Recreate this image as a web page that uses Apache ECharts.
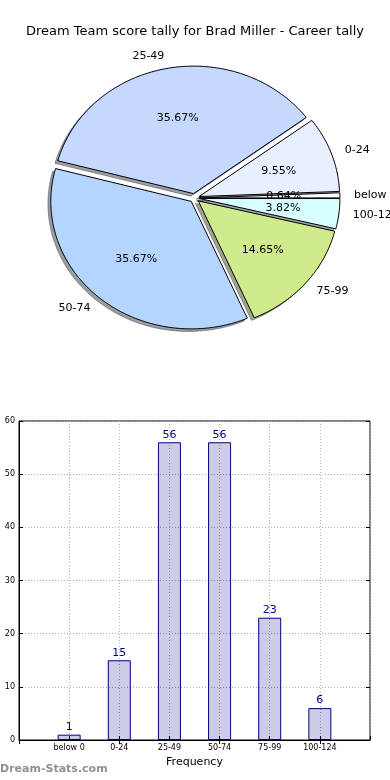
<!DOCTYPE html>
<html>
<head>
<meta charset="utf-8">
<script src="https://cdn.jsdelivr.net/npm/echarts@6/dist/echarts.min.js"></script>
<style>
html,body{margin:0;padding:0;background:#fff;}
#chart{width:390px;height:780px;}
</style>
</head>
<body>
<div id="chart"></div>
<script>
const titleText = 'Dream Team score tally for Brad Miller - Career tally';
const categories = ['below 0', '0-24', '25-49', '50-74', '75-99', '100-124'];
const counts = [1, 15, 56, 56, 23, 6];
const pieLabels = ['below', '0-24', '25-49', '50-74', '75-99', '100-124'];
const pieColors = ['#ffffff', '#e8f0ff', '#c5d8ff', '#b3d5ff', '#cfeb8b', '#d8ffff'];
const yMax = 60;
const yStep = 10;

const total = counts.reduce((a, b) => a + b, 0);
const starts = [];
(function () { let acc = 0; counts.forEach(v => { starts.push(acc); acc += v; }); })();
const EXPLODE = 0.035;
const SHADOW = -0.02;

function hexRgb(h) {
  return [parseInt(h.slice(1, 3), 16), parseInt(h.slice(3, 5), 16), parseInt(h.slice(5, 7), 16)];
}
function angles(i) {
  const t1 = starts[i] / total * Math.PI * 2;
  const t2 = (starts[i] + counts[i]) / total * Math.PI * 2;
  return [t1, t2, (t1 + t2) / 2];
}
function wedgePts(api, i, dx, dy) {
  const [t1, t2, tm] = angles(i);
  const ox = EXPLODE * Math.cos(tm) + dx, oy = EXPLODE * Math.sin(tm) + dy;
  const pts = [api.coord([ox, oy])];
  const n = Math.max(2, Math.ceil((t2 - t1) / (Math.PI / 180)));
  for (let k = 0; k <= n; k++) {
    const t = t1 + (t2 - t1) * k / n;
    pts.push(api.coord([ox + Math.cos(t), oy + Math.sin(t)]));
  }
  return pts;
}

const pieData = counts.map((v, i) => [i, v]);
const padCats = [''].concat(categories, ['']);
const padVals = ['-'].concat(counts, ['-']);

const chart = echarts.init(document.getElementById('chart'), null, { renderer: 'canvas' });
const gridLine = { show: true, lineStyle: { color: '#b0b0b0', type: [1, 2], width: 1 } };
chart.setOption({
  animation: false,
  backgroundColor: '#ffffff',
  textStyle: { fontFamily: 'DejaVu Sans' },
  title: {
    text: titleText, left: 'center', top: 20,
    textStyle: { fontSize: 13, fontWeight: 'normal', color: '#000', fontFamily: 'DejaVu Sans' }
  },
  graphic: [{
    type: 'text', left: 0, top: 764,
    style: { text: 'Dream-Stats.com', fill: '#909090', font: 'bold 11px "DejaVu Sans"' }
  }],
  grid: [
    { left: 54, top: 70.5, width: 281, height: 255, show: false },
    { left: 19, right: 20, top: 421, bottom: 40, show: true, borderColor: '#000', borderWidth: 1, backgroundColor: 'transparent' }
  ],
  xAxis: [
    { gridIndex: 0, type: 'value', min: -1, max: 1, show: false },
    {
      gridIndex: 1, type: 'category', data: padCats, boundaryGap: false,
      axisLine: { show: true, lineStyle: { color: '#000' } },
      axisTick: { show: true, inside: true, length: 4, lineStyle: { color: '#000' } },
      axisLabel: { fontSize: 8, color: '#000', interval: 0, margin: 4 },
      splitLine: gridLine,
      name: 'Frequency', nameLocation: 'middle', nameGap: 17,
      nameTextStyle: { fontSize: 11, color: '#000' }
    },
    {
      gridIndex: 1, type: 'category', data: padCats, boundaryGap: false, position: 'top',
      axisLine: { show: false }, axisTick: { show: true, inside: true, length: 4, lineStyle: { color: '#000' } },
      axisLabel: { show: false }, splitLine: { show: false }
    }
  ],
  yAxis: [
    { gridIndex: 0, type: 'value', min: -1, max: 1, show: false },
    {
      gridIndex: 1, type: 'value', min: 0, max: yMax, interval: yStep,
      axisLine: { show: true, lineStyle: { color: '#000' } },
      axisTick: { show: true, inside: true, length: 4, lineStyle: { color: '#000' } },
      axisLabel: { fontSize: 8, color: '#000', margin: 4 },
      splitLine: gridLine
    },
    {
      gridIndex: 1, type: 'value', min: 0, max: yMax, interval: yStep, position: 'right',
      axisLine: { show: false }, axisTick: { show: true, inside: true, length: 4, lineStyle: { color: '#000' } },
      axisLabel: { show: false }, splitLine: { show: false }
    }
  ],
  series: [
    {
      type: 'custom', xAxisIndex: 0, yAxisIndex: 0, z: 1, data: pieData, silent: true,
      renderItem: function (params, api) {
        const i = params.dataIndex;
        const c = hexRgb(pieColors[i]);
        const fill = 'rgba(' + Math.round(c[0] * 0.3) + ',' + Math.round(c[1] * 0.3) + ',' + Math.round(c[2] * 0.3) + ',0.5)';
        return { type: 'polygon', shape: { points: wedgePts(api, i, SHADOW, SHADOW) }, style: { fill: fill, stroke: fill, lineWidth: 1 } };
      }
    },
    {
      type: 'custom', xAxisIndex: 0, yAxisIndex: 0, z: 2, data: pieData, silent: true,
      renderItem: function (params, api) {
        const i = params.dataIndex;
        const [t1, t2, tm] = angles(i);
        const ox = EXPLODE * Math.cos(tm), oy = EXPLODE * Math.sin(tm);
        const pp = api.coord([ox + 0.6 * Math.cos(tm), oy + 0.6 * Math.sin(tm)]);
        const lx = 1.1 * Math.cos(tm);
        const lp = api.coord([ox + lx, oy + 1.1 * Math.sin(tm)]);
        const pct = (counts[i] / total * 100).toFixed(2) + '%';
        return {
          type: 'group',
          children: [
            { type: 'polygon', shape: { points: wedgePts(api, i, 0, 0) }, style: { fill: pieColors[i], stroke: '#000', lineWidth: 1 }, z2: 1 },
            { type: 'text', x: pp[0], y: pp[1], z2: 5, style: { text: pct, fill: '#000', font: '11px "DejaVu Sans"', align: 'center', verticalAlign: 'middle' } },
            { type: 'text', x: lp[0], y: lp[1], z2: 5, style: { text: pieLabels[i], fill: '#000', font: '11px "DejaVu Sans"', align: lx > 0 ? 'left' : 'right', verticalAlign: 'middle' } }
          ]
        };
      }
    },
    {
      type: 'bar', xAxisIndex: 1, yAxisIndex: 1, data: padVals, barWidth: 23,
      itemStyle: { color: 'rgba(0,0,128,0.2)', borderColor: '#000080', borderWidth: 1 },
      label: { show: true, position: 'top', distance: 2, color: '#000080', fontSize: 11, fontFamily: 'DejaVu Sans' }
    }
  ]
});
</script>
</body>
</html>
